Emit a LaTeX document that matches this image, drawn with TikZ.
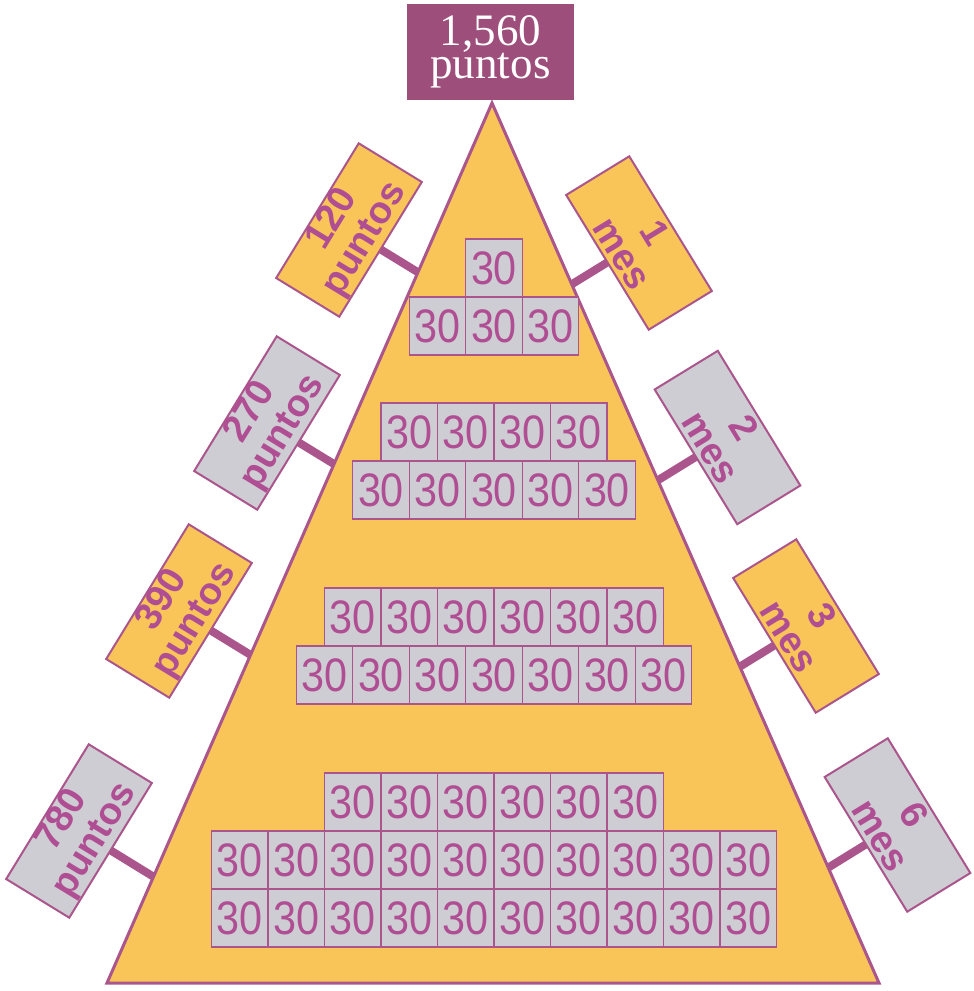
\documentclass[tikz,border=0pt]{standalone}
\usepackage{fontspec}
\setmainfont{Liberation Serif}
\newfontfamily\labfont{Liberation Sans}
\newfontfamily\cellfont[FakeStretch=0.88]{Liberation Sans}
\usetikzlibrary{calc,backgrounds}
\definecolor{pyel}{RGB}{249,197,88}
\definecolor{pgray}{RGB}{207,205,212}
\definecolor{pline}{RGB}{170,85,140}
\definecolor{ptext}{RGB}{176,78,148}
\definecolor{ptop}{RGB}{158,78,122}
\begin{document}
\begin{tikzpicture}[x=1pt,y=-1pt,
  tri/.style={fill=pyel,draw=pline,line width=3pt,line join=miter},
  cell/.style={draw=pline,line width=1.4pt,fill=pgray,minimum width=56.5pt,minimum height=58pt,
    inner sep=0pt,outer sep=0pt,text=ptext,font=\cellfont\fontsize{47}{47}\selectfont},
  lab/.style={draw=pline,line width=2pt,minimum width=158pt,minimum height=74pt,inner sep=0pt,
    outer sep=0pt,align=center,text=ptext,font=\labfont\bfseries\fontsize{38}{38}\selectfont},
  ylab/.style={lab,fill=pyel},
  glab/.style={lab,fill=pgray},
  topbox/.style={fill=ptop,minimum width=167pt,minimum height=96pt,inner sep=0pt,align=center,
    text=white,font=\fontsize{45}{33}\selectfont},
  conn/.style={draw=pline,line width=8pt}]
\useasboundingbox (0,0) rectangle (974,991);
\begin{pgfonlayer}{background}
\fill[white] (0,0) rectangle (974,991);
\end{pgfonlayer}
% triangle
\coordinate (A) at (492,103);
\coordinate (BL) at (107,983);
\coordinate (BR) at (879,983);
\draw[tri] (A) -- (BR) -- (BL) -- cycle;
% top box
\node[topbox] (top) at (490.5,52) {1,560\\puntos};
% cells
\foreach \yy/\n [count=\k] in {239/1,297/3,403/4,461/5,588/6,646/7,773/6,831/10,889/10}{
  \foreach \i in {1,...,\n}{
    \node[cell] (c\k-\i) at ({494-\n*28.25+(\i-0.5)*56.5},{\yy+29}) {30};
  }
}
% labels
\node[ylab,rotate=58.5] (l1) at (349,230) {120\\puntos};
\node[glab,rotate=58.5] (l2) at (267,423) {270\\puntos};
\node[ylab,rotate=58.5] (l3) at (179,611) {390\\puntos};
\node[glab,rotate=58.5] (l4) at (79,831) {780\\puntos};
\node[ylab,rotate=-58.5] (r1) at (639,243) {1\\mes};
\node[glab,rotate=-58.5] (r2) at (727.5,437.5) {2\\mes};
\node[ylab,rotate=-58.5] (r3) at (806,626) {3\\mes};
\node[glab,rotate=-58.5] (r4) at (897.5,825) {6\\mes};
% connectors
\foreach \b/\e in {l1/BL,l2/BL,l3/BL,l4/BL,r1/BR,r2/BR,r3/BR,r4/BR}{
  \coordinate (\b-s) at (\b.south);
  \coordinate (\b-f) at ($(\b.center)!5!(\b.south)$);
  \coordinate (\b-e) at (intersection of \b-s--\b-f and A--\e);
  \begin{pgfonlayer}{background}
  \draw[conn] (\b-s) -- (\b-e);
  \end{pgfonlayer}
}
\end{tikzpicture}
\end{document}
